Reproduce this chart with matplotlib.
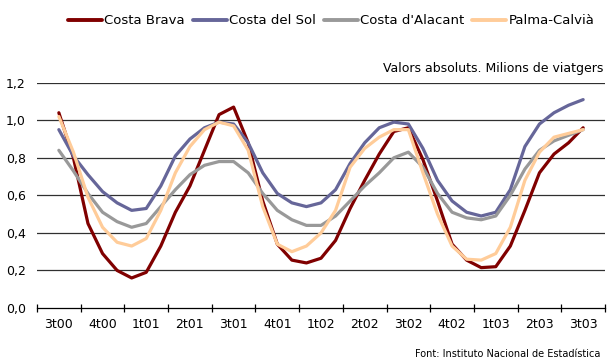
import matplotlib
matplotlib.use("Agg")
import matplotlib.pyplot as plt
import numpy as np

quarters = ["3t00", "4t00", "1t01", "2t01", "3t01", "4t01", "1t02", "2t02",
            "3t02", "4t02", "1t03", "2t03", "3t03"]

# Monthly values (millions of travellers), from 3t00 to 3t03
costa_brava = [1.04, 0.80, 0.45, 0.29, 0.20, 0.16, 0.19, 0.33, 0.51,
               0.65, 0.84, 1.03, 1.07, 0.88, 0.57, 0.34, 0.255, 0.24,
               0.265, 0.36, 0.53, 0.68, 0.82, 0.94, 0.96, 0.79, 0.57,
               0.34, 0.255, 0.215, 0.22, 0.33, 0.52, 0.72, 0.82, 0.88, 0.96]
costa_del_sol = [0.95, 0.81, 0.71, 0.62, 0.56, 0.52, 0.53, 0.65, 0.81,
                 0.90, 0.96, 0.99, 0.98, 0.88, 0.72, 0.61, 0.56, 0.54,
                 0.56, 0.63, 0.77, 0.88, 0.96, 0.99, 0.98, 0.85, 0.68,
                 0.57, 0.51, 0.49, 0.51, 0.63, 0.86, 0.98, 1.04, 1.08, 1.11]
costa_alacant = [0.84, 0.73, 0.61, 0.51, 0.46, 0.43, 0.45, 0.54, 0.63,
                 0.71, 0.76, 0.78, 0.78, 0.72, 0.61, 0.52, 0.47, 0.44,
                 0.44, 0.49, 0.57, 0.65, 0.72, 0.80, 0.83, 0.75, 0.61,
                 0.51, 0.48, 0.47, 0.49, 0.60, 0.74, 0.84, 0.89, 0.92, 0.95]
palma_calvia = [1.02, 0.83, 0.59, 0.43, 0.35, 0.33, 0.37, 0.52, 0.72,
                0.86, 0.95, 0.99, 0.97, 0.84, 0.54, 0.34, 0.30, 0.33,
                0.40, 0.52, 0.75, 0.85, 0.91, 0.95, 0.95, 0.72, 0.50,
                0.33, 0.26, 0.255, 0.29, 0.43, 0.68, 0.83, 0.91, 0.93, 0.95]

series = [
    ("Costa Brava", costa_brava, "#800000"),
    ("Costa del Sol", costa_del_sol, "#666699"),
    ("Costa d'Alacant", costa_alacant, "#999999"),
    ("Palma-Calvià", palma_calvia, "#FFCC99"),
]

plt.rcParams['font.family'] = ['DejaVu Sans']

fig = plt.figure(figsize=(6.08, 3.62), dpi=100)
ax = fig.add_axes([37/608, 1 - 308/362, 568/608, (308 - 82.7)/362])

x = np.arange(len(costa_brava)) / 3.0
for name, vals, col in series:
    ax.plot(x, vals, color=col, lw=2.3, label=name,
            solid_joinstyle='round', solid_capstyle='round')

ax.set_xlim(-0.5, 12.5)
ax.set_ylim(0, 1.2)
ax.set_yticks(np.arange(0, 1.21, 0.2))
ax.set_yticklabels([f"{v:.1f}".replace('.', ',') for v in np.arange(0, 1.21, 0.2)],
                   fontsize=9)
ax.tick_params(axis='y', length=0, pad=8)
for v in np.arange(0.2, 1.21, 0.2):
    ax.axhline(v, color='#303030', lw=0.9, zorder=0)

ax.set_xticks(np.arange(-0.5, 13, 1.0))
ax.set_xticklabels([])
ax.set_xticks(np.arange(0, 13, 1.0), minor=True)
ax.set_xticklabels(quarters, minor=True, fontsize=9)
ax.tick_params(axis='x', which='major', direction='inout', length=6, width=0.9)
ax.tick_params(axis='x', which='minor', length=0, pad=7)

for s in ['top', 'right', 'left']:
    ax.spines[s].set_visible(False)
ax.spines['bottom'].set_linewidth(0.9)

leg = fig.legend(loc='center', bbox_to_anchor=(331/608, 1 - 21/362), ncol=4,
                 frameon=False, fontsize=9.5, handlelength=2.6, handletextpad=0.15,
                 columnspacing=0.6, borderaxespad=0.0, borderpad=0.0)
for h in leg.get_lines():
    h.set_linewidth(2.8)
    h.set_solid_capstyle('round')

fig.text(603/608, 1 - 68.5/362, "Valors absoluts. Milions de viatgers",
         ha='right', va='center', fontsize=9)
fig.text(600/608, 1 - 354/362, "Font: Instituto Nacional de Estadística",
         ha='right', va='center', fontsize=7)

fig.savefig("out.png", dpi=100)
